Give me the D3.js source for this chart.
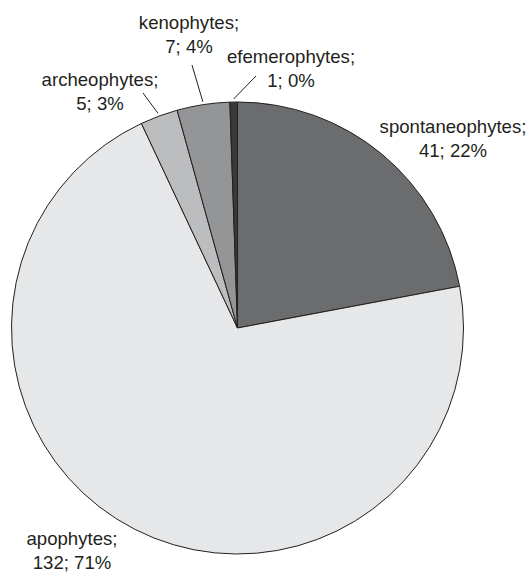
<!DOCTYPE html>
<html><head><meta charset="utf-8">
<script src="https://cdn.jsdelivr.net/npm/d3@7"></script>
<style>html,body{margin:0;padding:0;background:#fff;}svg{display:block;}</style>
</head><body>
<script>
const categories = ["spontaneophytes", "apophytes", "archeophytes", "kenophytes", "efemerophytes"];
const counts = [41, 132, 5, 7, 1];
const percents = ["22%", "71%", "3%", "4%", "0%"];
const colors = ["#6b6c6e", "#e6e7e8", "#bcbdbf", "#949597", "#38393b"];

// layout: label anchor (center x, first baseline y), leader start (or null)
const layout = [
  {x: 453, y: 133, lead: null},
  {x: 72,  y: 545, lead: null},
  {x: 100, y: 86,  lead: [143, 93]},
  {x: 189, y: 29,  lead: [192, 65]},
  {x: 291, y: 63,  lead: [256, 76]}
];

const W = 530, H = 576, cx = 237.5, cy = 328, R = 226;
const svg = d3.select("body").append("svg").attr("width", W).attr("height", H);
const g = svg.append("g").attr("transform", `translate(${cx},${cy})`);

const pie = d3.pie().sort(null).value(d => d.v);
const data = categories.map((c, i) => ({c, v: counts[i], i}));
const arcs = pie(data);
const arc = d3.arc().innerRadius(0).outerRadius(R);
const outer = d3.arc().innerRadius(R + 3).outerRadius(R + 3);

g.selectAll("path.slice").data(arcs).join("path")
  .attr("class", "slice")
  .attr("d", arc)
  .attr("fill", d => colors[d.data.i])
  .attr("stroke", "#231f20")
  .attr("stroke-width", 1)
  .attr("stroke-linejoin", "miter");

arcs.forEach(d => {
  const L = layout[d.data.i];
  if (L.lead) {
    const [ex, ey] = outer.centroid(d);
    svg.append("line")
      .attr("x1", L.lead[0]).attr("y1", L.lead[1])
      .attr("x2", cx + ex).attr("y2", cy + ey)
      .attr("stroke", "#231f20").attr("stroke-width", 1);
  }
  const t = svg.append("text")
    .attr("text-anchor", "middle")
    .attr("font-family", "'Liberation Sans', Arial, sans-serif")
    .attr("font-size", 18.6)
    .attr("fill", "#231f20");
  t.append("tspan").attr("x", L.x).attr("y", L.y).text(d.data.c + ";");
  t.append("tspan").attr("x", L.x).attr("y", L.y + 24).text(d.data.v + "; " + percents[d.data.i]);
});
</script>
</body></html>
